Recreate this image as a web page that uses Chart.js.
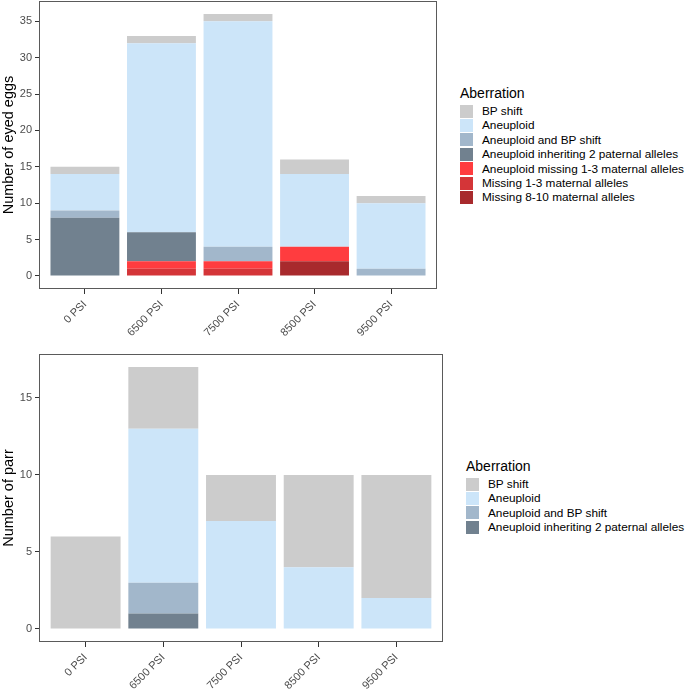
<!DOCTYPE html>
<html>
<head>
<meta charset="utf-8">
<script src="https://cdn.jsdelivr.net/npm/chart.js@4/dist/chart.umd.min.js"></script>
<style>
  html, body { margin: 0; padding: 0; background: #fff; }
  body { width: 685px; height: 691px; position: relative; overflow: hidden; font-family: Arial, "Liberation Sans", sans-serif; }
  canvas { position: absolute; left: 0; }
  .legend { position: absolute; color: #000; }
  .legend .title { font-size: 14px; height: 20px; line-height: 20px; margin-bottom: 1px; }
  .legend .item { height: 14.4px; line-height: 14.4px; font-size: 11.8px; white-space: nowrap; position: relative; padding-left: 22px; }
  .legend .key { position: absolute; left: 0; top: 0.7px; width: 13px; height: 13px; }
</style>
</head>
<body>
<canvas id="eggs" style="top:0"></canvas>
<canvas id="parr" style="top:345px"></canvas>
<div id="eggsLegend" class="legend" style="left:460px; top:83px"></div>
<div id="parrLegend" class="legend" style="left:466px; top:456px"></div>
<script>
// categories
const categories = ['0 PSI', '6500 PSI', '7500 PSI', '8500 PSI', '9500 PSI'];

// eyed eggs, bottom of stack first
const eggMissing810 = [0, 0, 0, 2, 0];
const eggMissing13 = [0, 1, 1, 0, 0];
const eggAneuMissing13 = [0, 1, 1, 2, 0];
const eggAneuPaternal = [8, 4, 0, 0, 0];
const eggAneuBP = [1, 0, 2, 0, 1];
const eggAneuploid = [5, 26, 31, 10, 9];
const eggBP = [1, 1, 1, 2, 1];

// parr, bottom of stack first
const parrAneuPaternal = [0, 1, 0, 0, 0];
const parrAneuBP = [0, 2, 0, 0, 0];
const parrAneuploid = [0, 10, 7, 4, 2];
const parrBP = [6, 4, 3, 6, 8];

// tick labels
const eggTicks = [0, 5, 10, 15, 20, 25, 30, 35];
const parrTicks = [0, 5, 10, 15];

// colours per aberration
const colors = {
    'BP shift': '#cccccc',
    'Aneuploid': '#cce5f9',
    'Aneuploid and BP shift': '#a2b7cb',
    'Aneuploid inheriting 2 paternal alleles': '#71818f',
    'Aneuploid missing 1-3 maternal alleles': '#ff3c3f',
    'Missing 1-3 maternal alleles': '#d43538',
    'Missing 8-10 maternal alleles': '#a82a2d'
};

const eggSeries = [
    ['Missing 8-10 maternal alleles', eggMissing810],
    ['Missing 1-3 maternal alleles', eggMissing13],
    ['Aneuploid missing 1-3 maternal alleles', eggAneuMissing13],
    ['Aneuploid inheriting 2 paternal alleles', eggAneuPaternal],
    ['Aneuploid and BP shift', eggAneuBP],
    ['Aneuploid', eggAneuploid],
    ['BP shift', eggBP]
];

const parrSeries = [
    ['Aneuploid inheriting 2 paternal alleles', parrAneuPaternal],
    ['Aneuploid and BP shift', parrAneuBP],
    ['Aneuploid', parrAneuploid],
    ['BP shift', parrBP]
];

// cadre gris autour du panneau
const panelBorder = {
    id: 'panelBorder',
    afterDraw(chart) {
        const { ctx, chartArea: a } = chart;
        ctx.save();
        ctx.strokeStyle = '#5a5a5a';
        ctx.lineWidth = 1;
        ctx.strokeRect(Math.round(a.left) + 0.5, Math.round(a.top) + 0.5,
            Math.round(a.right - a.left) - 1, Math.round(a.bottom - a.top) - 1);
        ctx.restore();
    }
};

function makeChart(id, series, ticks, range, yTitle, size) {
    const canvas = document.getElementById(id);
    canvas.width = size.w;
    canvas.height = size.h;
    canvas.style.width = size.w + 'px';
    canvas.style.height = size.h + 'px';

    const datasets = series.map(([name, values]) => ({
        label: name,
        data: values.map((v, i) => ({ x: i, y: v })),
        backgroundColor: colors[name],
        borderWidth: 0,
        barPercentage: 0.9,
        categoryPercentage: 1
    }));

    return new Chart(canvas, {
        type: 'bar',
        data: { datasets },
        options: {
            responsive: false,
            animation: false,
            layout: { padding: { top: size.top, right: size.w - size.right, left: 0, bottom: 0 } },
            plugins: { legend: { display: false }, tooltip: { enabled: false } },
            scales: {
                x: {
                    type: 'linear',
                    stacked: true,
                    offset: false,
                    min: -0.6,
                    max: categories.length - 0.4,
                    afterBuildTicks: s => { s.ticks = categories.map((c, i) => ({ value: i })); },
                    afterFit: s => {
                        s.height = size.h - size.bottom;
                        s.paddingLeft = 0;
                        s.paddingRight = 0;
                    },
                    ticks: {
                        callback: v => categories[v],
                        autoSkip: false,
                        minRotation: 45,
                        maxRotation: 45,
                        color: '#4d4d4d',
                        font: { family: 'Arial, "Liberation Sans"', size: 11 },
                        padding: 4
                    },
                    grid: { display: true, drawOnChartArea: false, offset: false, tickLength: 5, color: '#333' },
                    border: { display: false }
                },
                y: {
                    stacked: true,
                    min: range[0],
                    max: range[1],
                    afterBuildTicks: s => { s.ticks = ticks.map(v => ({ value: v })); },
                    afterFit: s => {
                        s.width = size.left;
                        s.paddingTop = 0;
                        s.paddingBottom = 0;
                    },
                    ticks: {
                        color: '#4d4d4d',
                        font: { family: 'Arial, "Liberation Sans"', size: 11 },
                        padding: 3
                    },
                    grid: { display: true, drawOnChartArea: false, tickLength: 4, color: '#333' },
                    border: { display: false },
                    title: {
                        display: true,
                        text: yTitle,
                        color: '#000',
                        font: { family: 'Arial, "Liberation Sans"', size: 14.5 },
                        padding: { top: 0, bottom: 2 }
                    }
                }
            }
        },
        plugins: [panelBorder]
    });
}

function buildLegend(id, series) {
    const box = document.getElementById(id);
    let html = '<div class="title">Aberration</div>';
    series.slice().reverse().forEach(([name]) => {
        html += '<div class="item"><span class="key" style="background:' + colors[name] + '"></span>' + name + '</div>';
    });
    box.innerHTML = html;
}

makeChart('eggs', eggSeries, eggTicks, [-1.8, 37.8], 'Number of eyed eggs',
    { w: 450, h: 345, left: 39, right: 437, top: 1, bottom: 289 });
makeChart('parr', parrSeries, parrTicks, [-0.85, 17.85], 'Number of parr',
    { w: 456, h: 346, left: 39, right: 443, top: 9, bottom: 297 });

buildLegend('eggsLegend', eggSeries);
buildLegend('parrLegend', parrSeries);
</script>
</body>
</html>
